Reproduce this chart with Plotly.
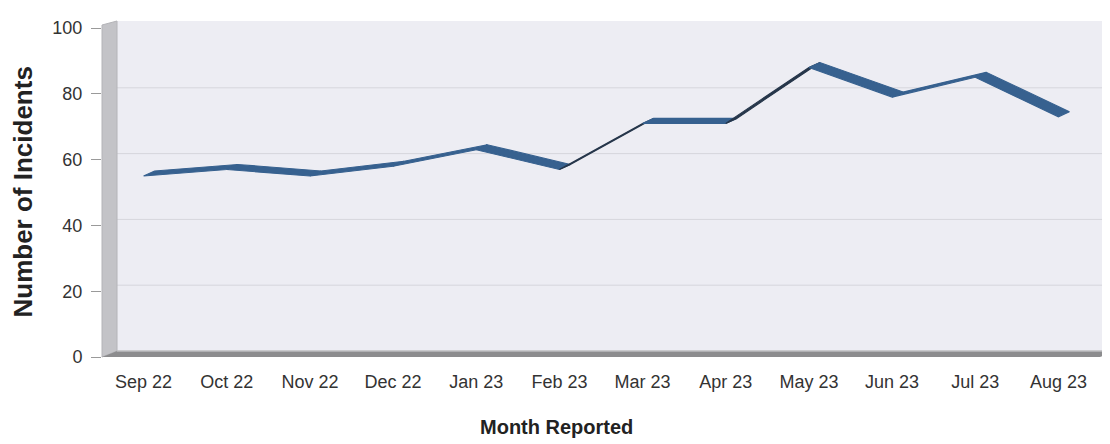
import plotly.graph_objects as go

# ---------------- data ----------------
months = ["Sep 22", "Oct 22", "Nov 22", "Dec 22", "Jan 23", "Feb 23",
          "Mar 23", "Apr 23", "May 23", "Jun 23", "Jul 23", "Aug 23"]
incidents = [55, 57, 55, 58, 63, 57, 71, 71, 88, 79, 85, 73]
y_ticks = [0, 20, 40, 60, 80, 100]
grid_values = [20, 40, 60, 80]

# ---------------- geometry / style ----------------
OFF = 8                      # page body margin
W, H = 1110 - OFF, 444 - OFF
ML, MR, MT, MB = 102 - OFF, 10, 28 - OFF, 87
PW = W - ML - MR
PH = H - MT - MB
x_range = [-0.5, len(months) - 0.5]
y_range = [0, 100]
px_x = PW / (x_range[1] - x_range[0])
px_y = PH / (y_range[1] - y_range[0])

WALL_DX, WALL_DY = 15, 6      # depth of the 3D box, pixels
RIB_DX, RIB_DY = 11, 5        # depth of the ribbon, pixels
wdx, wdy = WALL_DX / PW, WALL_DY / PH
rdx, rdy = RIB_DX / px_x, RIB_DY / px_y

BLUE = "#37618F"
DARK = "#26364A"
FONT = "Liberation Sans, Arial, sans-serif"

fig = go.Figure()

# ribbon: one quadrilateral per segment
for i in range(len(incidents) - 1):
    v0, v1 = incidents[i], incidents[i + 1]
    xs = [i, i + 1, i + 1 + rdx, i + rdx, i]
    ys = [v0, v1, v1 + rdy, v0 + rdy, v0]
    slope_px = (v1 - v0) * px_y / px_x
    top_visible = RIB_DY > slope_px * RIB_DX
    col = BLUE if top_visible else DARK
    fig.add_trace(go.Scatter(
        x=xs, y=ys, mode="lines", fill="toself", fillcolor=col,
        line=dict(color=col, width=1.1), hoverinfo="skip", showlegend=False))

shapes = []
# back wall
shapes.append(dict(type="rect", xref="paper", yref="paper", x0=wdx, x1=1.03,
                   y0=wdy, y1=1 + (WALL_DY + 1) / PH, fillcolor="#EDEDF3",
                   line=dict(width=0), layer="below"))
# grid lines on back wall
for g in grid_values:
    shapes.append(dict(type="line", xref="paper", yref="y", x0=wdx, x1=1.03,
                       y0=g + WALL_DY / px_y, y1=g + WALL_DY / px_y,
                       line=dict(color="#D6D6DC", width=1), layer="below"))
# left wall
shapes.append(dict(type="path", xref="paper", yref="paper",
                   path=f"M 0,0 L 0,{1 + 3 / PH} L {wdx},{1 + (WALL_DY + 1) / PH} L {wdx},{wdy} Z",
                   fillcolor="#C3C3C7", line=dict(color="#B4B4B8", width=1), layer="below"))
# floor
shapes.append(dict(type="path", xref="paper", yref="paper",
                   path=f"M 0,0 L 1,0 L {1 + wdx},{wdy} L {wdx},{wdy} Z",
                   fillcolor="#8C8C8E", line=dict(width=0), layer="below"))
shapes.append(dict(type="line", xref="paper", yref="paper", x0=wdx, x1=1 + wdx,
                   y0=wdy, y1=wdy, line=dict(color="#BDBDBF", width=1.5), layer="below"))

annotations = [
    dict(text="<b>Number of Incidents</b>", xref="paper", yref="paper",
         x=(22 - OFF - ML) / PW, y=0.5, xanchor="center", yanchor="middle",
         textangle=-90, showarrow=False,
         font=dict(family=FONT, size=26, color="#222222")),
    dict(text="<b>Month Reported</b>", xref="paper", yref="paper",
         x=(556 - OFF - ML) / PW, y=(MT + PH - (427 - OFF)) / PH,
         xanchor="center", yanchor="middle", showarrow=False,
         font=dict(family=FONT, size=20, color="#222222")),
]

fig.update_layout(
    width=W, height=H, margin=dict(l=ML, r=MR, t=MT, b=MB),
    paper_bgcolor="white", plot_bgcolor="white",
    shapes=shapes, annotations=annotations, showlegend=False,
    xaxis=dict(range=x_range, tickmode="array", tickvals=list(range(len(months))),
               ticktext=months, showgrid=False, zeroline=False, showline=False,
               ticks="", ticklabelstandoff=12,
               tickfont=dict(family=FONT, size=18, color="#333333")),
    yaxis=dict(range=y_range, tickmode="array", tickvals=y_ticks,
               showgrid=False, zeroline=False, showline=False,
               ticks="outside", ticklen=10, tickcolor="#9A9A9A", tickwidth=1,
               ticklabelstandoff=5,
               tickfont=dict(family=FONT, size=18, color="#333333")),
)

fig.write_html("out.html")
